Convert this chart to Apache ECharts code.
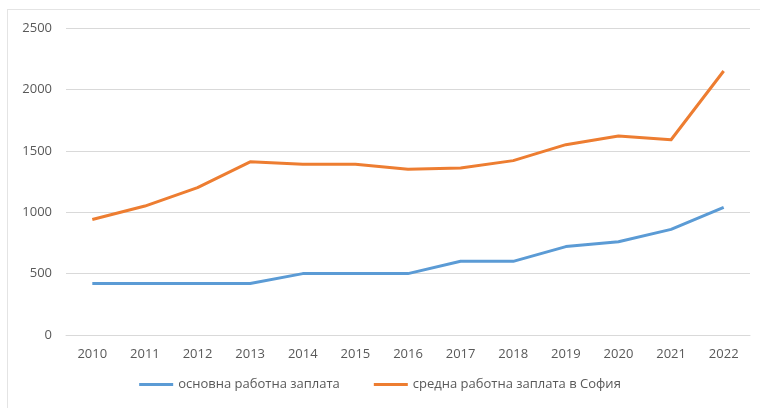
<!DOCTYPE html>
<html>
<head>
<meta charset="utf-8">
<script src="https://cdn.jsdelivr.net/npm/echarts@6/dist/echarts.min.js"></script>
<style>
  html, body { margin: 0; padding: 0; background: #fff; }
  #chart { width: 760px; height: 408px; }
  #frame { position: absolute; left: 7px; top: 9px; width: 760px; height: 420px; border: 1px solid #e4e4e4; pointer-events: none; }
</style>
</head>
<body>
<div id="chart"></div>
<div id="frame"></div>
<script>
// годините и двата реда заплати (лв.)
const years = ['2010', '2011', '2012', '2013', '2014', '2015', '2016', '2017', '2018', '2019', '2020', '2021', '2022'];
const basicWage = [420, 420, 420, 420, 500, 500, 500, 600, 600, 720, 760, 860, 1040];
const sofiaAvgWage = [940, 1050, 1200, 1410, 1390, 1390, 1350, 1360, 1420, 1550, 1620, 1590, 2150];
const seriesNames = ['основна работна заплата', 'средна работна заплата в София'];

const chart = echarts.init(document.getElementById('chart'));
const font = 'Open Sans, Liberation Sans, sans-serif';

chart.setOption({
  animation: false,
  grid: { left: 66, right: 10, top: 28, bottom: 73 },
  legend: {
    bottom: 12,
    left: 'center',
    icon: 'rect',
    itemWidth: 34,
    itemHeight: 3,
    itemGap: 34,
    itemStyle: { borderWidth: 0 },
    textStyle: { color: '#595959', fontSize: 13, fontFamily: font },
    data: seriesNames,
  },
  xAxis: {
    type: 'category',
    data: years,
    axisLine: { lineStyle: { color: '#d9d9d9', width: 1 } },
    axisTick: { show: false },
    axisLabel: { color: '#595959', fontSize: 13, fontFamily: font, margin: 13 },
  },
  yAxis: {
    type: 'value',
    min: 0,
    max: 2500,
    interval: 500,
    axisLine: { show: false },
    axisTick: { show: false },
    splitLine: { lineStyle: { color: '#d9d9d9', width: 1 } },
    axisLabel: { color: '#595959', fontSize: 13, fontFamily: font, margin: 14, formatter: v => String(v) },
  },
  series: [
    {
      name: seriesNames[0],
      type: 'line',
      data: basicWage,
      symbol: 'none',
      lineStyle: { color: '#5b9bd5', width: 3, join: 'round' },
      itemStyle: { color: '#5b9bd5' },
    },
    {
      name: seriesNames[1],
      type: 'line',
      data: sofiaAvgWage,
      symbol: 'none',
      lineStyle: { color: '#ed7d31', width: 3, join: 'round' },
      itemStyle: { color: '#ed7d31' },
    },
  ],
});
</script>
</body>
</html>
